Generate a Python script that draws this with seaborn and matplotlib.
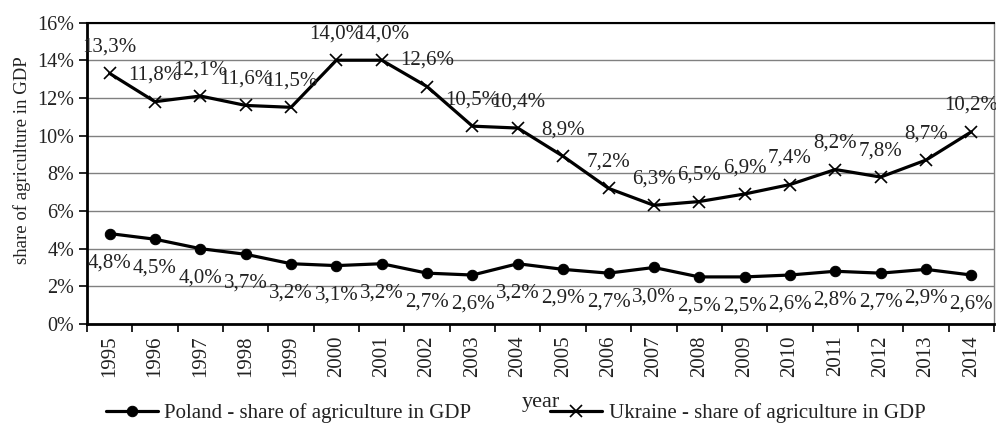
import matplotlib
matplotlib.use("Agg")
import matplotlib.pyplot as plt
import seaborn as sns
import pandas as pd
from matplotlib.ticker import FixedLocator, FuncFormatter

years = list(range(1995, 2015))
poland = [4.8, 4.5, 4.0, 3.7, 3.2, 3.1, 3.2, 2.7, 2.6, 3.2, 2.9, 2.7, 3.0, 2.5, 2.5, 2.6, 2.8, 2.7, 2.9, 2.6]
ukraine = [13.3, 11.8, 12.1, 11.6, 11.5, 14.0, 14.0, 12.6, 10.5, 10.4, 8.9, 7.2, 6.3, 6.5, 6.9, 7.4, 8.2, 7.8, 8.7, 10.2]
poland_name = "Poland - share of agriculture in GDP"
ukraine_name = "Ukraine - share of agriculture in GDP"

sns.set_theme(style="white")
plt.rcParams['font.family'] = ['Liberation Serif', 'DejaVu Serif']
plt.rcParams['font.size'] = 15

df = pd.DataFrame({"year": years, "poland": poland, "ukraine": ukraine})

fig = plt.figure(figsize=(9.96, 4.25), dpi=100)
ax = fig.add_axes([0.0873, 0.2376, 0.9107, 0.7094])

sns.lineplot(data=df, x="year", y="poland", ax=ax, color="black", lw=2.3,
             marker="o", markersize=7.5, markeredgecolor="black", label=poland_name)
sns.lineplot(data=df, x="year", y="ukraine", ax=ax, color="black", lw=2.3,
             marker="x", markersize=8, markeredgewidth=1.2, markeredgecolor="black", label=ukraine_name)

def fmt(v):
    return f"{v:.1f}".replace(".", ",") + "%"

for x, v in zip(years, poland):
    ax.annotate(fmt(v), (x, v), xytext=(0, -21), textcoords="offset points",
                ha="center", va="center", fontsize=15, color="#222222")
for x, v in zip(years, ukraine):
    ax.annotate(fmt(v), (x, v), xytext=(0, 19), textcoords="offset points",
                ha="center", va="center", fontsize=15, color="#222222")

ax.set_xlim(1994.5, 2014.5)
ax.set_ylim(0, 16)
ax.set_yticks(range(0, 17, 2))
ax.yaxis.set_major_formatter(FuncFormatter(lambda v, p: f"{int(v)}%"))
ax.set_xticks(years)
ax.set_xticklabels([str(y) for y in years], rotation=90)
ax.xaxis.set_minor_locator(FixedLocator([y + 0.5 for y in range(1994, 2015)]))
ax.tick_params(axis="x", which="major", length=0, pad=8, labelsize=15, colors="#222222")
ax.tick_params(axis="x", which="minor", length=6, width=1.2, color="black", direction="out", bottom=True)
ax.tick_params(axis="y", which="major", length=6, width=1.2, color="black", direction="out",
               left=True, labelsize=14.5, pad=3, labelcolor="#222222")

ax.grid(axis="y", color="#808080", lw=1)
ax.set_axisbelow(True)
for s in ["left", "bottom"]:
    ax.spines[s].set_color("black")
    ax.spines[s].set_linewidth(2)
ax.spines["top"].set_color("black")
ax.spines["top"].set_linewidth(1.5)
ax.spines["right"].set_color("#808080")
ax.spines["right"].set_linewidth(1)

ax.set_xlabel("year", fontsize=16, color="#222222")
ax.xaxis.set_label_coords(0.5, -0.228)
ax.set_ylabel("share of agriculture in GDP", fontsize=13.5, color="#222222")
ax.yaxis.set_label_coords(-0.062, 0.544)

ax.get_legend().remove()
h, l = ax.get_legend_handles_labels()
fig.legend(h, l, loc="center", bbox_to_anchor=(0.5176, 0.028), ncol=2, frameon=False,
           fontsize=15, handlelength=2.5, columnspacing=3.8, handletextpad=0.3,
           borderpad=0, borderaxespad=0, labelcolor="#222222")

fig.savefig("out.png", dpi=100)
